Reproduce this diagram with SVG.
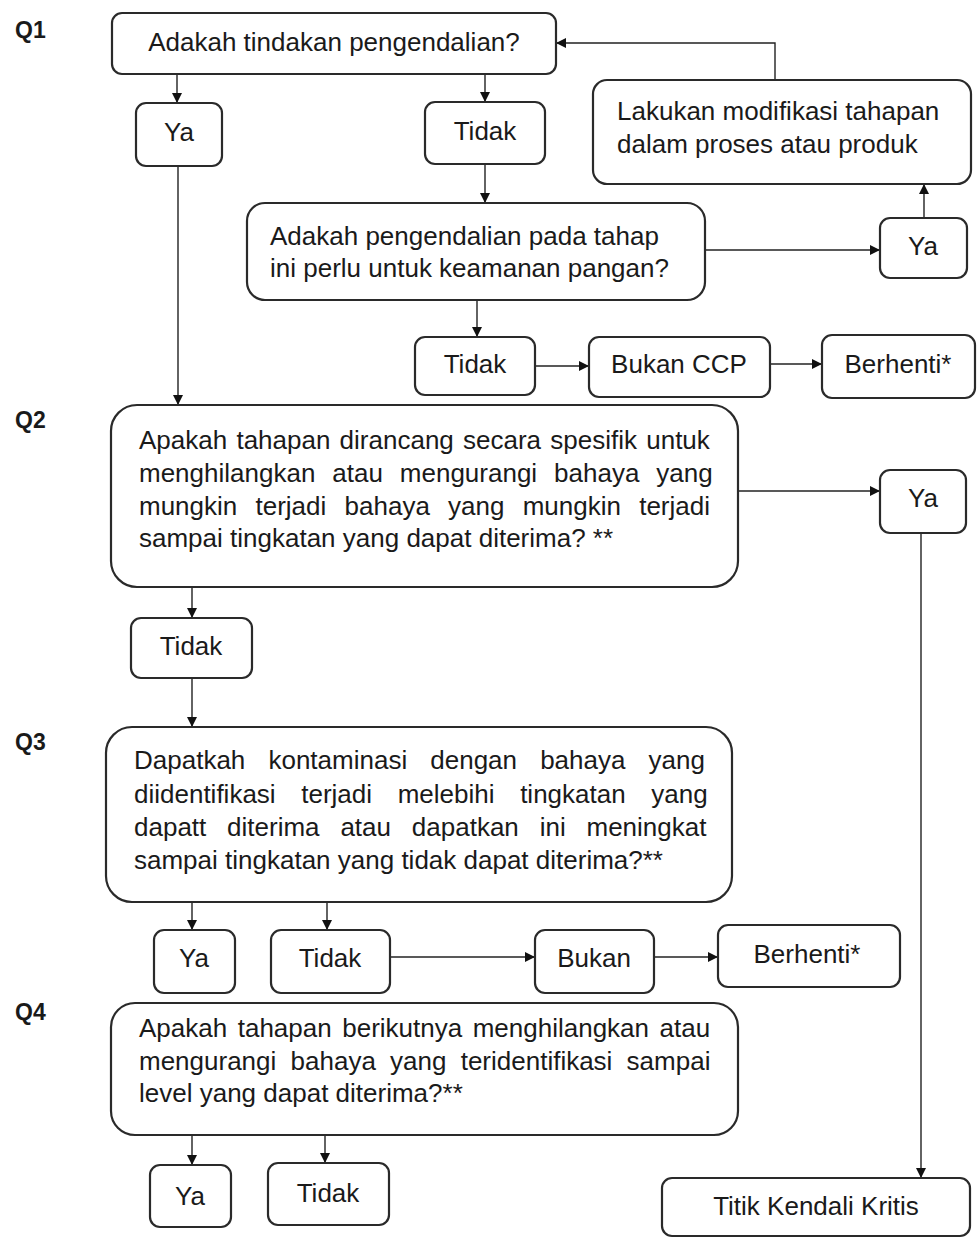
<svg xmlns="http://www.w3.org/2000/svg" width="977" height="1239" viewBox="0 0 977 1239">
<defs>
<marker id="ah" viewBox="0 0 10 10" refX="10" refY="5" markerWidth="10" markerHeight="10" markerUnits="userSpaceOnUse" orient="auto">
<path d="M0,0 L10,5 L0,10 z" fill="#111"/>
</marker>
</defs>
<style>
.box{fill:#fff;stroke:#2a2a2a;stroke-width:2.2}
.t{font-family:"Liberation Sans",Arial,sans-serif;font-size:26px;fill:#1a1a1a}
.c{text-anchor:middle}
.q{font-family:"Liberation Sans",Arial,sans-serif;font-size:23px;font-weight:bold;fill:#1a1a1a}
.ln{fill:none;stroke:#222;stroke-width:1.4;marker-end:url(#ah)}
</style>
<rect width="977" height="1239" fill="#fff"/>

<g id="labels">
<text class="q" x="15" y="38">Q1</text>
<text class="q" x="15" y="428">Q2</text>
<text class="q" x="15" y="750">Q3</text>
<text class="q" x="15" y="1020">Q4</text>
</g>

<g id="connectors">
<line class="ln" x1="177" y1="74" x2="177" y2="103"/>
<line class="ln" x1="485" y1="74" x2="485" y2="102"/>
<line class="ln" x1="178" y1="166" x2="178" y2="405"/>
<line class="ln" x1="485" y1="164" x2="485" y2="203"/>
<line class="ln" x1="705" y1="250" x2="880" y2="250"/>
<line class="ln" x1="924" y1="218" x2="924" y2="184"/>
<polyline class="ln" points="775,80 775,43 556,43"/>
<line class="ln" x1="477" y1="300" x2="477" y2="337"/>
<line class="ln" x1="535" y1="366" x2="589" y2="366"/>
<line class="ln" x1="770" y1="364" x2="822" y2="364"/>
<line class="ln" x1="738" y1="491" x2="880" y2="491"/>
<line class="ln" x1="921" y1="533" x2="921" y2="1178"/>
<line class="ln" x1="192" y1="587" x2="192" y2="618"/>
<line class="ln" x1="192" y1="678" x2="192" y2="727"/>
<line class="ln" x1="192" y1="902" x2="192" y2="930"/>
<line class="ln" x1="327" y1="902" x2="327" y2="930"/>
<line class="ln" x1="390" y1="957" x2="535" y2="957"/>
<line class="ln" x1="654" y1="957" x2="718" y2="957"/>
<line class="ln" x1="192" y1="1135" x2="192" y2="1165"/>
<line class="ln" x1="325" y1="1135" x2="325" y2="1163"/>
</g>

<g id="q1">
<rect class="box" x="112" y="13" width="444" height="61" rx="10"/>
<text class="t c" x="334" y="51">Adakah tindakan pengendalian?</text>
</g>
<g id="q1-ya">
<rect class="box" x="136" y="103" width="86" height="63" rx="10"/>
<text class="t c" x="179" y="141">Ya</text>
</g>
<g id="q1-tidak">
<rect class="box" x="425" y="102" width="120" height="62" rx="10"/>
<text class="t c" x="485" y="140">Tidak</text>
</g>
<g id="modifikasi">
<rect class="box" x="593" y="80" width="378" height="104" rx="14"/>
<text class="t" x="617" y="120">Lakukan modifikasi tahapan</text>
<text class="t" x="617" y="153">dalam proses atau produk</text>
</g>
<g id="q1b">
<rect class="box" x="247" y="203" width="458" height="97" rx="18"/>
<text class="t" x="270" y="245">Adakah pengendalian pada tahap</text>
<text class="t" x="270" y="277">ini perlu untuk keamanan pangan?</text>
</g>
<g id="q1b-ya">
<rect class="box" x="880" y="218" width="87" height="60" rx="10"/>
<text class="t c" x="923" y="255">Ya</text>
</g>
<g id="q1b-tidak">
<rect class="box" x="415" y="337" width="120" height="58" rx="10"/>
<text class="t c" x="475" y="373">Tidak</text>
</g>
<g id="bukan-ccp">
<rect class="box" x="589" y="337" width="181" height="60" rx="10"/>
<text class="t c" x="679" y="373">Bukan CCP</text>
</g>
<g id="berhenti1">
<rect class="box" x="822" y="335" width="153" height="63" rx="10"/>
<text class="t c" x="898" y="373">Berhenti*</text>
</g>

<g id="q2">
<rect class="box" x="111" y="405" width="627" height="182" rx="26"/>
<text class="t" x="139" y="449" word-spacing="2">Apakah tahapan dirancang secara spesifik untuk</text>
<text class="t" x="139" y="482" word-spacing="9.7">menghilangkan atau mengurangi bahaya yang</text>
<text class="t" x="139" y="515" word-spacing="11">mungkin terjadi bahaya yang mungkin terjadi</text>
<text class="t" x="139" y="547">sampai tingkatan yang dapat diterima? **</text>
</g>
<g id="q2-ya">
<rect class="box" x="880" y="470" width="86" height="63" rx="10"/>
<text class="t c" x="923" y="507">Ya</text>
</g>
<g id="q2-tidak">
<rect class="box" x="131" y="618" width="121" height="60" rx="10"/>
<text class="t c" x="191" y="655">Tidak</text>
</g>

<g id="q3">
<rect class="box" x="106" y="727" width="626" height="175" rx="26"/>
<text class="t" x="134" y="769" word-spacing="15.9">Dapatkah kontaminasi dengan bahaya yang</text>
<text class="t" x="134" y="803" word-spacing="18.4">diidentifikasi terjadi melebihi tingkatan yang</text>
<text class="t" x="134" y="836" word-spacing="13.6">dapatt diterima atau dapatkan ini meningkat</text>
<text class="t" x="134" y="869">sampai tingkatan yang tidak dapat diterima?**</text>
</g>
<g id="q3-ya">
<rect class="box" x="154" y="930" width="81" height="63" rx="10"/>
<text class="t c" x="194" y="967">Ya</text>
</g>
<g id="q3-tidak">
<rect class="box" x="271" y="930" width="119" height="63" rx="10"/>
<text class="t c" x="330" y="967">Tidak</text>
</g>
<g id="bukan">
<rect class="box" x="535" y="930" width="119" height="63" rx="10"/>
<text class="t c" x="594" y="967">Bukan</text>
</g>
<g id="berhenti2">
<rect class="box" x="718" y="925" width="182" height="62" rx="10"/>
<text class="t c" x="807" y="963">Berhenti*</text>
</g>

<g id="q4">
<rect class="box" x="111" y="1003" width="627" height="132" rx="24"/>
<text class="t" x="139" y="1037" word-spacing="3.3">Apakah tahapan berikutnya menghilangkan atau</text>
<text class="t" x="139" y="1070" word-spacing="7">mengurangi bahaya yang teridentifikasi sampai</text>
<text class="t" x="139" y="1102">level yang dapat diterima?**</text>
</g>
<g id="q4-ya">
<rect class="box" x="150" y="1165" width="81" height="62" rx="10"/>
<text class="t c" x="190" y="1205">Ya</text>
</g>
<g id="q4-tidak">
<rect class="box" x="268" y="1163" width="121" height="62" rx="10"/>
<text class="t c" x="328" y="1202">Tidak</text>
</g>
<g id="ccp">
<rect class="box" x="662" y="1178" width="308" height="58" rx="10"/>
<text class="t c" x="816" y="1215">Titik Kendali Kritis</text>
</g>
</svg>
